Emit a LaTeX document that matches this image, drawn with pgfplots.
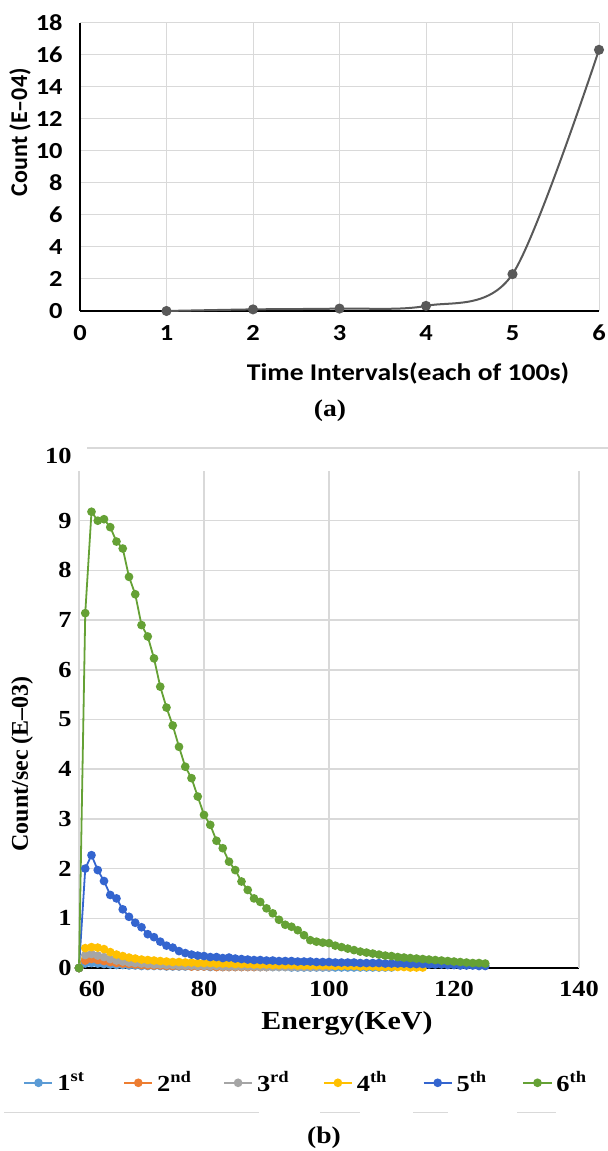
\documentclass[border=0pt]{standalone}
\usepackage{fontspec}
\usepackage{pgfplots}
\pgfplotsset{compat=1.18}
\usepackage{pgfplotstable}
\setmainfont{Liberation Serif}
\newfontfamily\calS{Carlito}[FakeStretch=1.15]
\newfontfamily\calN{Carlito}
\newfontfamily\timS{Liberation Serif}[FakeStretch=1.15]
\newfontfamily\timN{Liberation Serif}
\definecolor{gridc}{HTML}{D9D9D9}
\definecolor{lineA}{HTML}{595959}
\definecolor{cA}{HTML}{5B9BD5}
\definecolor{cB}{HTML}{ED7D31}
\definecolor{cC}{HTML}{A5A5A5}
\definecolor{cD}{HTML}{FFC000}
\definecolor{cE}{HTML}{3465CF}
\definecolor{cF}{HTML}{65A135}

\pgfplotstableread{
E   s1   s2   s3   s4   s5   s6
60  0    0    0    0    0    0
61  0.09 0.15 0.26 0.40 2.00 7.14
62  0.10 0.18 0.28 0.42 2.27 9.18
63  0.09 0.16 0.25 0.41 1.97 9.00
64  0.08 0.14 0.22 0.38 1.75 9.03
65  0.07 0.12 0.18 0.32 1.47 8.87
66  0.06 0.10 0.15 0.27 1.40 8.58
67  0.06 0.09 0.13 0.24 1.18 8.44
68  0.05 0.08 0.11 0.21 1.03 7.87
69  0.05 0.07 0.10 0.19 0.91 7.52
70  0.04 0.06 0.09 0.17 0.82 6.90
71  0.04 0.05 0.08 0.16 0.68 6.67
72  0.04 0.05 0.07 0.15 0.62 6.23
73  0.04 0.05 0.07 0.14 0.53 5.66
74  0.03 0.04 0.06 0.13 0.45 5.24
75  0.03 0.04 0.06 0.12 0.41 4.88
76  0.03 0.04 0.05 0.12 0.34 4.45
77  0.03 0.04 0.05 0.11 0.30 4.05
78  0.03 0.03 0.05 0.11 0.27 3.82
79  0.03 0.03 0.04 0.10 0.25 3.45
80  0.03 0.03 0.04 0.10 0.24 3.08
81  0.02 0.03 0.04 0.10 0.22 2.88
82  0.02 0.02 0.04 0.09 0.22 2.56
83  0.02 0.02 0.03 0.09 0.20 2.41
84  0.02 0.02 0.03 0.09 0.21 2.14
85  0.02 0.02 0.03 0.08 0.19 1.97
86  0.02 0.02 0.03 0.08 0.18 1.74
87  0.02 0.02 0.03 0.08 0.17 1.57
88  0.02 0.02 0.03 0.07 0.16 1.40
89  0.02 0.02 0.02 0.07 0.16 1.33
90  0.02 0.02 0.02 0.07 0.15 1.20
91  0.02 nan  0.02 0.06 0.15 1.10
92  0.02 nan  0.02 0.06 0.14 0.97
93  0.02 nan  0.02 0.06 0.14 0.87
94  0.01 nan  0.02 0.06 0.14 0.83
95  0.01 nan  0.02 0.05 0.13 0.76
96  0.01 nan  0.02 0.05 0.13 0.66
97  0.01 nan  0.02 0.05 0.13 0.56
98  0.01 nan  0.02 0.05 0.12 0.53
99  0.01 nan  0.02 0.05 0.12 0.51
100 0.01 nan  0.02 0.05 0.12 0.50
101 0.01 nan  nan  0.04 0.11 0.45
102 0.01 nan  nan  0.04 0.11 0.42
103 0.01 nan  nan  0.04 0.11 0.39
104 0.01 nan  nan  0.04 0.11 0.36
105 0.01 nan  nan  0.03 0.10 0.33
106 0.01 nan  nan  0.03 0.10 0.31
107 0.01 nan  nan  0.03 0.10 0.29
108 0.01 nan  nan  0.02 0.10 0.27
109 0.01 nan  nan  0.02 0.09 0.25
110 0.01 nan  nan  0.02 0.09 0.24
111 nan  nan  nan  0.02 0.09 0.22
112 nan  nan  nan  0.02 0.09 0.21
113 nan  nan  nan  0.01 0.08 0.20
114 nan  nan  nan  0.01 0.08 0.19
115 nan  nan  nan  0.01 0.08 0.18
116 nan  nan  nan  nan  0.07 0.17
117 nan  nan  nan  nan  0.07 0.16
118 nan  nan  nan  nan  0.07 0.15
119 nan  nan  nan  nan  0.06 0.14
120 nan  nan  nan  nan  0.06 0.13
121 nan  nan  nan  nan  0.05 0.12
122 nan  nan  nan  nan  0.05 0.11
123 nan  nan  nan  nan  0.05 0.10
124 nan  nan  nan  nan  0.04 0.10
125 nan  nan  nan  nan  0.04 0.09
}\bdata

\begin{document}
\begin{tikzpicture}
\useasboundingbox (0,0) rectangle (304pt,575.5pt);

% ---------- (a) ----------
\begin{axis}[
  at={(40pt,420pt)}, anchor=south west,
  scale only axis, width=259.5pt, height=144.2pt,
  xmin=0, xmax=6, ymin=0, ymax=18,
  xtick={0,...,6}, ytick={0,2,...,18},
  axis lines=left, axis line style={-, black, line width=1pt},
  grid=major, major grid style={gridc, line width=0.5pt},
  major tick length=0pt,
  /pgf/number format/assume math mode=true,
  tick label style={font=\calS\bfseries\fontsize{11.5}{13}\selectfont},
  xticklabel style={anchor=center, yshift=-11pt},
  yticklabel style={anchor=east, inner sep=0pt, xshift=-8.5pt},
  xlabel={Time Intervals(each of 100s)},
  xlabel style={font=\calS\bfseries\fontsize{12}{14}\selectfont, at={(axis description cs:0.632,-0.215)}, anchor=center},
  ylabel={Count (E\textendash 04)},
  ylabel style={font=\calN\bfseries\fontsize{12}{14}\selectfont, at={(axis description cs:-0.1156,0.62)}, anchor=center},
  clip=false,
]
\addplot[lineA, line width=1pt, smooth, mark=*, mark size=2pt, mark options={fill=lineA, draw=lineA}]
  coordinates {(1,0) (2,0.1) (3,0.15) (4,0.32) (5,2.3) (6,16.3)};
\end{axis}

\node[font=\timS\bfseries\fontsize{12}{14}\selectfont] at (165pt,370pt) {(a)};

% ---------- (b) ----------
\draw[gridc, line width=0.75pt] (43.5pt,351.5pt) -- (304pt,351.5pt);

\begin{axis}[
  at={(39.5pt,91.5pt)}, anchor=south west,
  scale only axis, width=250pt, height=248.5pt,
  xmin=60, xmax=140, ymin=0, ymax=10,
  xtick={60,80,...,140},
  xticklabels={{\hspace{13pt}60},80,100,120,{140\hspace{6pt}}},
  ytick={0,...,9},
  extra y ticks={10}, extra y tick style={grid=none, tick label style={yshift=7.5pt}},
  extra x ticks={80,100,140}, extra x tick labels={,,}, extra x tick style={grid=major},
  ymajorgrids, major grid style={gridc, line width=0.75pt},
  axis lines=left,
  x axis line style={-, black, line width=1.3pt},
  y axis line style={-, gridc, line width=0.75pt},
  major tick length=0pt,
  /pgf/number format/assume math mode=true,
  tick label style={font=\timS\bfseries\fontsize{11.5}{13}\selectfont},
  xticklabel style={anchor=center, yshift=-10.5pt},
  yticklabel style={anchor=east, inner sep=0pt, xshift=-3.5pt},
  xlabel={Energy(KeV)},
  xlabel style={font=\timS\bfseries\fontsize{13}{15}\selectfont, at={(axis description cs:0.536,-0.111)}, anchor=center},
  ylabel={Count/sec (E\textendash 03)},
  ylabel style={font=\timN\bfseries\fontsize{12}{14}\selectfont, at={(axis description cs:-0.114,0.411)}, anchor=center},
  clip=false,
  legend columns=6,
  legend cell align=left,
  legend style={at={(axis description cs:0.472,-0.231)}, anchor=center, draw=none, fill=none, inner sep=0pt,
    font=\timS\bfseries\fontsize{11.5}{13}\selectfont,
    /tikz/every even column/.append style={column sep=8pt}},
  legend image code/.code={\draw[mark repeat=2, mark phase=2, #1] plot coordinates {(0pt,0pt) (7pt,0pt) (14pt,0pt)};},
  every axis plot/.append style={line width=0.9pt, mark=*, mark size=1.7pt},
]
\addplot[cA, mark options={solid, fill=cA, draw=cA}] table[x=E, y=s1] {\bdata};
\addlegendentry{\makebox[23pt][l]{1\textsuperscript{st}}}
\addplot[cB, mark options={solid, fill=cB, draw=cB}] table[x=E, y=s2] {\bdata};
\addlegendentry{\makebox[23pt][l]{2\textsuperscript{nd}}}
\addplot[cC, mark options={solid, fill=cC, draw=cC}] table[x=E, y=s3] {\bdata};
\addlegendentry{\makebox[23pt][l]{3\textsuperscript{rd}}}
\addplot[cD, mark options={solid, fill=cD, draw=cD}] table[x=E, y=s4] {\bdata};
\addlegendentry{\makebox[23pt][l]{4\textsuperscript{th}}}
\addplot[cE, mark options={solid, fill=cE, draw=cE}] table[x=E, y=s5] {\bdata};
\addlegendentry{\makebox[23pt][l]{5\textsuperscript{th}}}
\addplot[cF, mark options={solid, fill=cF, draw=cF}] table[x=E, y=s6] {\bdata};
\addlegendentry{\makebox[23pt][l]{6\textsuperscript{th}}}
\end{axis}

\draw[gridc, line width=0.5pt] (2pt,19pt) -- (129.5pt,19pt);
\draw[gridc, line width=0.5pt] (160pt,19pt) -- (180pt,19pt);
\draw[gridc, line width=0.5pt] (206.5pt,19pt) -- (224pt,19pt);
\draw[gridc, line width=0.5pt] (258.5pt,19pt) -- (278pt,19pt);

\node[font=\timS\bfseries\fontsize{12}{14}\selectfont] at (162pt,6.5pt) {(b)};
\end{tikzpicture}
\end{document}
